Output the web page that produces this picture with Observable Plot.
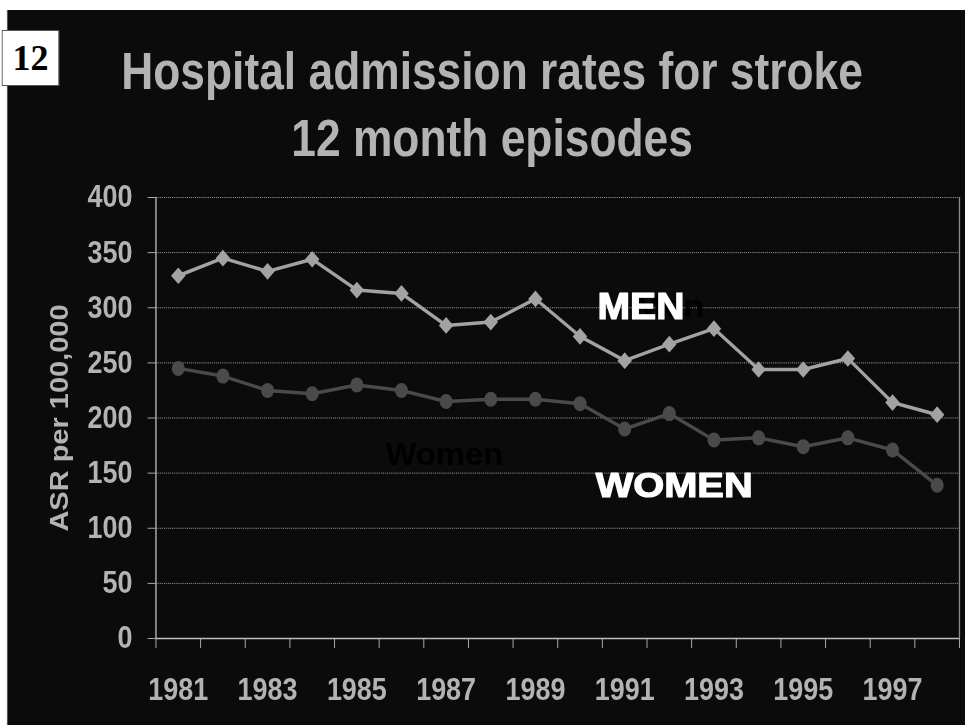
<!DOCTYPE html>
<html>
<head>
<meta charset="utf-8">
<script src="https://cdn.jsdelivr.net/npm/d3@7"></script>
<script src="https://cdn.jsdelivr.net/npm/@observablehq/plot@0.6"></script>
<style>
  html, body { margin: 0; padding: 0; background: #ffffff; overflow: hidden; }
  #wrap { position: relative; width: 1110px; height: 725px; transform: scaleX(0.8694); transform-origin: 0 0; }
  #panel { position: absolute; left: 8px; top: 10px; right: 0; bottom: 0; background: #0b0b0b; border-left: 1px solid #6a6a6a; }
  #badge { position: absolute; left: 2px; top: 30px; width: 64px; height: 54px; background: #ffffff; border: 1px solid #555; text-align: center;
           font: bold 36px/54px "Liberation Serif", "Times New Roman", serif; color: #000; }
  #badge span { display: inline-block; transform: scaleX(1.15); }
  #title { position: absolute; left: 0; top: 38px; width: 1132px; text-align: center; color: #b3b3b3;
           font: bold 51px/67px "Liberation Sans", Arial, sans-serif; }
  #chart { position: absolute; left: 0; top: 170px; }
</style>
</head>
<body>
<div id="wrap">
  <div id="panel"></div>
  <div id="badge"><span id="badgeText"></span></div>
  <div id="title"></div>
  <div id="chart"></div>
</div>
<script>
// ---- data ----
const years = [1981, 1982, 1983, 1984, 1985, 1986, 1987, 1988, 1989, 1990, 1991, 1992, 1993, 1994, 1995, 1996, 1997, 1998];
const men   = [329, 345, 333, 344, 316, 313, 284, 287, 308, 274, 252, 267, 281, 244, 244, 254, 214, 203];
const women = [245, 238, 225, 222, 230, 225, 215, 217, 217, 213, 190, 204, 180, 182, 174, 182, 171, 139];
const yTicks = [0, 50, 100, 150, 200, 250, 300, 350, 400];
const yearLabels = [1981, 1983, 1985, 1987, 1989, 1991, 1993, 1995, 1997];
const yearBounds = [1980.5, 1981.5, 1982.5, 1983.5, 1984.5, 1985.5, 1986.5, 1987.5, 1988.5, 1989.5, 1990.5, 1991.5, 1992.5, 1993.5, 1994.5, 1995.5, 1996.5, 1997.5, 1998.5];
const titleLines = ["Hospital admission rates for stroke", "12 month episodes"];
const badge = "12";
const yLabel = "ASR per 100,000";
const seriesLabels = ["MEN", "WOMEN"];
const ghostLabels = ["Men", "Women"];

// ---- text ----
document.getElementById("badgeText").textContent = badge;
const titleEl = document.getElementById("title");
titleLines.forEach((t, i) => {
  if (i) titleEl.appendChild(document.createElement("br"));
  titleEl.appendChild(document.createTextNode(t));
});

const table = years.map((year, i) => ({year, men: men[i], women: women[i]}));

const chart = Plot.plot({
  width: 1110,
  height: 555,
  marginLeft: 178.9,
  marginRight: 6.9,
  marginTop: 27,
  marginBottom: 87,
  x: {type: "linear", domain: [1980.5, 1998.5]},
  y: {domain: [0, 400]},
  style: {background: "transparent", color: "#b3b3b3", fontFamily: "'Liberation Sans', Arial, sans-serif", fontWeight: "bold", overflow: "visible"},
  marks: [
    Plot.gridY(yTicks.filter(d => d > 0), {stroke: "#a8a8a8", strokeOpacity: 1, strokeWidth: 1, strokeDasharray: "1.2,1.2"}),
    Plot.axisY(yTicks, {tickSize: 9.2, tickPadding: 17.9, fontSize: 31, label: null, tickFormat: d => String(d)}),
    Plot.axisX(yearBounds, {tickSize: 10, tickFormat: () => "", label: null}),
    Plot.axisX(yearLabels, {tickSize: 0, tickPadding: 39, fontSize: 31, label: null, tickFormat: d => String(d)}),
    Plot.ruleX([1980.5], {stroke: "#bdbdbd", strokeWidth: 1.5}),
    Plot.ruleX([1998.5], {stroke: "#8a8a8a", strokeWidth: 1.5}),
    Plot.ruleY([0], {stroke: "#bdbdbd", strokeWidth: 1.5}),
    Plot.text([yLabel], {frameAnchor: "left", textAnchor: "middle", rotate: -90, dx: -111, fontSize: 29, fill: "#b3b3b3"}),
    Plot.line(table, {x: "year", y: "women", stroke: "#4a4a4a", strokeWidth: 3.5}),
    Plot.dot(table, {x: "year", y: "women", r: 7.5, fill: "#4a4a4a", symbol: "circle"}),
    Plot.line(table, {x: "year", y: "men", stroke: "#a3a3a3", strokeWidth: 3.5}),
    Plot.dot(table, {x: "year", y: "men", r: 7.5, fill: "#a3a3a3", symbol: "diamond2"}),
    Plot.text([ghostLabels[1]], {x: () => 1985.64, y: () => 166, textAnchor: "start", fontSize: 31, fill: "#000000"}),
    Plot.text([ghostLabels[0]], {x: () => 1992.79, y: () => 301, textAnchor: "end", fontSize: 31, fill: "#000000"}),
    Plot.text([seriesLabels[0]], {x: () => 1990.39, y: () => 300, textAnchor: "start", fontSize: 36, fill: "#ffffff", stroke: "#ffffff", strokeWidth: 1.2}),
    Plot.text([seriesLabels[1]], {x: () => 1990.35, y: () => 138.5, textAnchor: "start", fontSize: 35, fill: "#ffffff", stroke: "#ffffff", strokeWidth: 1.2})
  ]
});
document.getElementById("chart").appendChild(chart);

// heavy (black-weight) labels are wider than Liberation Sans Bold
const labelWidths = {"MEN": 100, "WOMEN": 180.6, "Men": 81.7, "Women": 135.7};
d3.select(chart).selectAll("text").each(function () {
  const w = labelWidths[this.textContent];
  if (w) {
    this.setAttribute("textLength", w);
    this.setAttribute("lengthAdjust", "spacingAndGlyphs");
  }
});
</script>
</body>
</html>
